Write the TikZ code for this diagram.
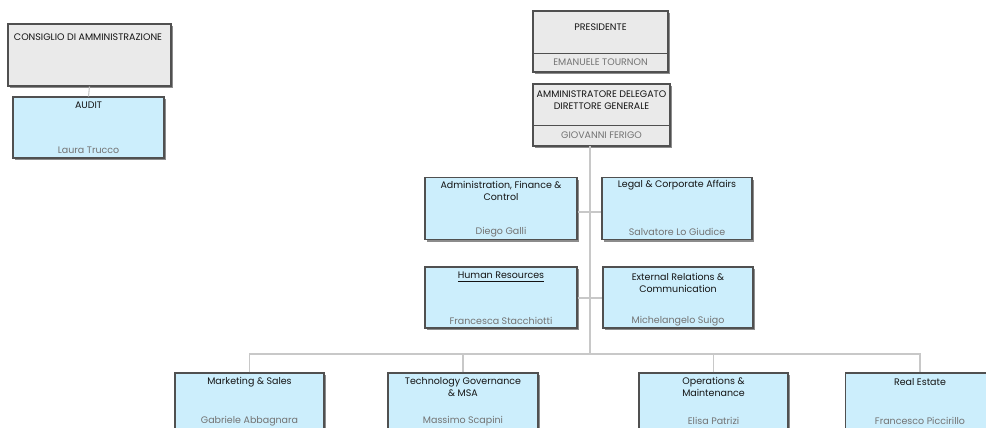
\documentclass[tikz,border=0pt]{standalone}
\usepackage{fontspec}
\setmainfont{Poppins}
\usetikzlibrary{shadows}

\definecolor{boxgray}{RGB}{234,234,234}
\definecolor{boxblue}{RGB}{204,238,252}
\definecolor{edgegray}{RGB}{80,80,80}
\definecolor{linegray}{RGB}{200,200,200}
\definecolor{namegray}{RGB}{115,115,115}

\tikzset{
  unit/.style={draw=edgegray, line width=0.6pt, inner sep=0pt,
    drop shadow={shadow xshift=0.045cm, shadow yshift=-0.045cm, fill=black!45, opacity=1}},
  headbox/.style={unit, fill=boxgray},
  deptbox/.style={unit, fill=boxblue, minimum width=3cm, minimum height=1.24cm},
  ttl/.style={font=\fontsize{5.4}{6.6}\selectfont, text=black!92, align=center, inner sep=0pt},
  who/.style={font=\fontsize{5.4}{6.6}\selectfont, text=namegray, align=center, inner sep=0pt},
  link/.style={draw=linegray, line width=0.6pt}
}

\begin{document}
\begin{tikzpicture}[x=0.02cm, y=-0.02cm]
\clip (0,0) rectangle (986,427);
\fill[white] (0,0) rectangle (986,427);

% board and audit
\node[headbox, minimum width=3.26cm, minimum height=1.24cm] (cda) at (89.5,55) {};
\node[ttl] (cda-t) at (88,37) {CONSIGLIO DI AMMINISTRAZIONE};
\node[deptbox, minimum width=3.02cm, minimum height=1.22cm] (audit) at (88.5,127.5) {};
\node[ttl] (audit-t) at (88.5,105) {AUDIT};
\node[who] (audit-n) at (88.5,150) {Laura Trucco};
\draw[link] (cda.south) -- (audit.north);

% top of the company
\node[headbox, minimum width=2.7cm, minimum height=1.22cm] (pres) at (600.5,41.5) {};
\draw[edgegray, line width=0.4pt] (pres.west |- 0,53) -- (pres.east |- 0,53);
\node[ttl] (pres-t) at (600.5,27) {PRESIDENTE};
\node[who] (pres-n) at (600.5,62) {EMANUELE TOURNON};

\node[headbox, minimum width=2.74cm, minimum height=1.24cm] (ad) at (601.5,115) {};
\draw[edgegray, line width=0.4pt] (ad.west |- 0,125) -- (ad.east |- 0,125);
\node[ttl] (ad-t) at (601.5,100) {AMMINISTRATORE DELEGATO\\DIRETTORE GENERALE};
\node[who] (ad-n) at (601.5,135) {GIOVANNI FERIGO};

% staff functions
\node[deptbox, minimum width=3.04cm] (afc) at (501,208.5) {};
\node[ttl] (afc-t) at (501,191) {Administration, Finance \&\\Control};
\node[who] (afc-n) at (501,232) {Diego Galli};
\node[deptbox] (legal) at (677,208.5) {};
\node[ttl] (legal-t) at (677,185) {Legal \& Corporate Affairs};
\node[who] (legal-n) at (677,232) {Salvatore Lo Giudice};

\node[deptbox, minimum width=3.04cm, minimum height=1.22cm] (hr) at (501,297.5) {};
\node[ttl] (hr-t) at (501,277) {\underline{Human Resources}};
\node[who] (hr-n) at (501,321) {Francesca Stacchiotti};
\node[deptbox, minimum height=1.22cm] (erc) at (678,297.5) {};
\node[ttl] (erc-t) at (678,283) {External Relations \&\\Communication};
\node[who] (erc-n) at (678,321) {Michelangelo Suigo};

% line functions
\node[deptbox, minimum width=2.98cm] (mkt) at (249.5,404) {};
\node[ttl] (mkt-t) at (249.5,382) {Marketing \& Sales};
\node[who] (mkt-n) at (249.5,421) {Gabriele Abbagnara};
\node[deptbox] (tech) at (463,404) {};
\node[ttl] (tech-t) at (463,387) {Technology Governance\\\& MSA};
\node[who] (tech-n) at (463,421) {Massimo Scapini};
\node[deptbox, minimum width=2.98cm] (ops) at (713.5,404) {};
\node[ttl] (ops-t) at (713.5,387) {Operations \&\\Maintenance};
\node[who] (ops-n) at (713.5,421) {Elisa Patrizi};
\node[deptbox] (re) at (920,404) {};
\node[ttl] (re-t) at (920,382) {Real Estate};
\node[who] (re-n) at (920,421) {Francesco Piccirillo};

% connectors
\coordinate (trunk) at (590,146);
\coordinate (bus) at (590,354);
\draw[link] (trunk) -- (bus);
\draw[link] (afc.east |- 0,212) -- (legal.west |- 0,212);
\draw[link] (hr.east |- 0,298) -- (erc.west |- 0,298);
\draw[link] (mkt.north) -- (mkt.north |- bus) -- (re.north |- bus) -- (re.north);
\draw[link] (tech.north) -- (tech.north |- bus);
\draw[link] (ops.north) -- (ops.north |- bus);
\end{tikzpicture}
\end{document}
